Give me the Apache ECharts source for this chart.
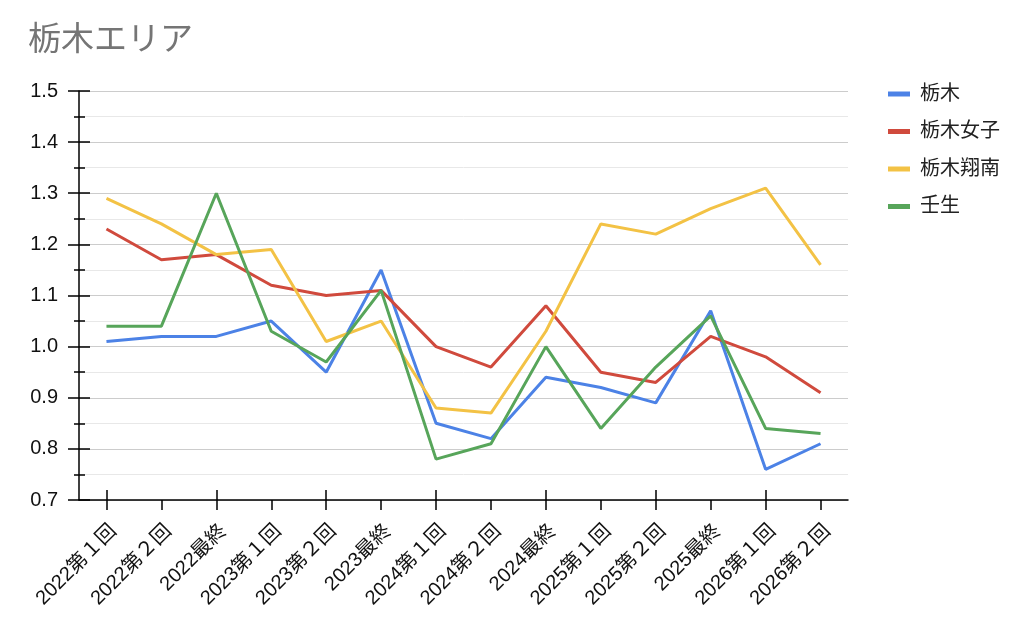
<!DOCTYPE html>
<html><head><meta charset="utf-8">
<script src="https://cdn.jsdelivr.net/npm/echarts@6/dist/echarts.min.js"></script>
<style>html,body{margin:0;padding:0;background:#fff}#c{width:1024px;height:628px}</style>
</head><body><div id="c"></div>
<script>
var categories = ['2022第１回','2022第２回','2022最終','2023第１回','2023第２回','2023最終','2024第１回','2024第２回','2024最終','2025第１回','2025第２回','2025最終','2026第１回','2026第２回'];
var tochigi      = [1.01,1.02,1.02,1.05,0.95,1.15,0.85,0.82,0.94,0.92,0.89,1.07,0.76,0.81];
var tochigiJoshi = [1.23,1.17,1.18,1.12,1.10,1.11,1.00,0.96,1.08,0.95,0.93,1.02,0.98,0.91];
var tochigiShonan= [1.29,1.24,1.18,1.19,1.01,1.05,0.88,0.87,1.03,1.24,1.22,1.27,1.31,1.16];
var mibu         = [1.04,1.04,1.30,1.03,0.97,1.11,0.78,0.81,1.00,0.84,0.96,1.06,0.84,0.83];
var seriesNames = ['栃木','栃木女子','栃木翔南','壬生'];
var yTicks = {min:0.7, max:1.5, interval:0.1};

var FONT = '"Liberation Sans", "Noto Sans CJK JP", sans-serif';
var colors = ['#4c82e6','#d04a3d','#f3c245','#57a55a'];
var chart = echarts.init(document.getElementById('c'));
function mk(name, data, i){
  return {name:name, type:'line', data:data, symbol:'none', xAxisIndex:0, yAxisIndex:0,
    lineStyle:{width:3, color:colors[i]}, itemStyle:{color:colors[i]}, z:3+i};
}
chart.setOption({
  animation:false,
  textStyle:{fontFamily:FONT},
  title:{text:'栃木エリア', left:23, top:19, textStyle:{fontFamily:FONT, fontSize:33, fontWeight:'normal', color:'#757575'}},
  legend:{orient:'vertical', left:883, top:79, itemWidth:22, itemHeight:5, itemGap:17.5, icon:'rect',
    textStyle:{fontFamily:FONT, fontSize:20, color:'#222', padding:[0,0,0,5]},
    data:seriesNames},
  grid:{left:79, right:176, top:91, bottom:128, containLabel:false},
  xAxis:[{
    type:'category', data:categories, boundaryGap:true, position:'bottom',
    axisLine:{lineStyle:{color:'#000', width:1.5}},
    axisTick:{show:true, alignWithLabel:true, length:10, lineStyle:{color:'#000', width:1.5}},
    axisLabel:{rotate:45, interval:0, margin:21, fontSize:20, color:'#111', fontFamily:FONT, align:'right', verticalAlign:'top'},
    splitLine:{show:false}
  },{
    type:'category', data:categories, boundaryGap:true, position:'bottom',
    axisLine:{show:false},
    axisTick:{show:true, inside:true, alignWithLabel:true, length:10, lineStyle:{color:'#000', width:1.5}},
    axisLabel:{show:false}, splitLine:{show:false}
  }],
  yAxis:[{
    type:'value', min:yTicks.min, max:yTicks.max, interval:yTicks.interval,
    axisLine:{show:true, lineStyle:{color:'#000', width:1.5}},
    axisTick:{show:true, length:11, lineStyle:{color:'#000', width:1.5}},
    minorTick:{show:true, splitNumber:2, length:5, lineStyle:{color:'#000', width:1.5}},
    axisLabel:{margin:21, fontSize:20, color:'#111', fontFamily:FONT, formatter:function(v){return v.toFixed(1);}},
    splitLine:{show:true, lineStyle:{color:'#cccccc', width:1.2}},
    minorSplitLine:{show:true, lineStyle:{color:'#e8e8e8', width:1}}
  },{
    type:'value', min:yTicks.min, max:yTicks.max, interval:yTicks.interval, position:'left',
    axisLine:{show:false},
    axisTick:{show:true, inside:true, length:11, lineStyle:{color:'#000', width:1.5}},
    minorTick:{show:true, splitNumber:2, length:6, lineStyle:{color:'#000', width:1.5}},
    axisLabel:{show:false}, splitLine:{show:false}, minorSplitLine:{show:false}
  }],
  series:[mk(seriesNames[0],tochigi,0), mk(seriesNames[1],tochigiJoshi,1), mk(seriesNames[2],tochigiShonan,2), mk(seriesNames[3],mibu,3)]
});
</script></body></html>
